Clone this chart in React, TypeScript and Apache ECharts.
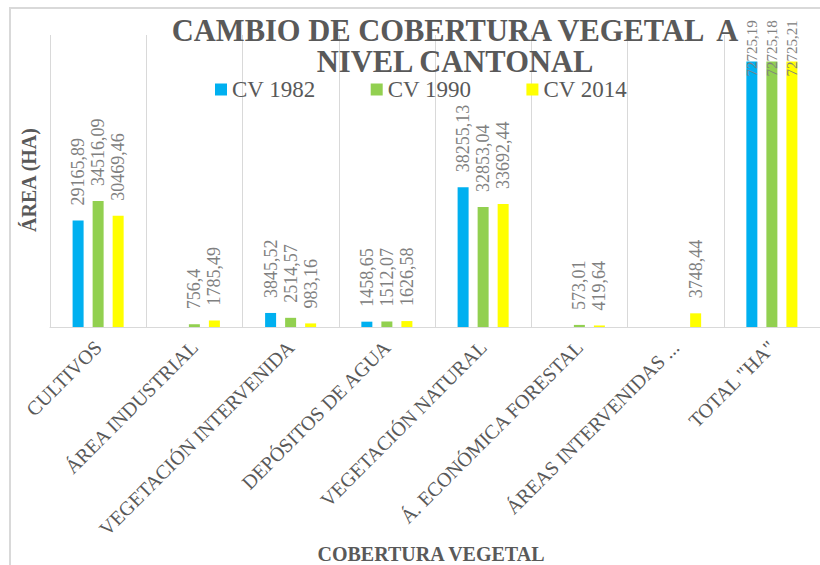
import React, { useEffect, useRef } from "react";
import * as echarts from "echarts";

const categories = [
  "CULTIVOS",
  "ÁREA INDUSTRIAL",
  "VEGETACIÓN INTERVENIDA",
  "DEPÓSITOS DE AGUA",
  "VEGETACIÓN NATURAL",
  "Á. ECONÓMICA FORESTAL",
  "ÁREAS INTERVENIDAS ...",
  "TOTAL \"HA\"",
];
const seriesNames = ["CV 1982", "CV 1990", "CV 2014"];
const cv1982 = [29165.89, null, 3845.52, 1458.65, 38255.13, null, null, 72725.19];
const cv1990 = [34516.09, 756.4, 2514.57, 1512.07, 32853.04, 573.01, null, 72725.18];
const cv2014 = [30469.46, 1785.49, 983.16, 1626.58, 33692.44, 419.64, 3748.44, 72725.21];
const colors = ["#00b0f0", "#92d050", "#ffff00"];
const titleText = "CAMBIO DE COBERTURA VEGETAL  A\nNIVEL CANTONAL";
const yTitle = "ÁREA (HA)";
const xTitle = "COBERTURA VEGETAL";

const SERIF = "Liberation Serif";

function fmt(v: number) {
  return String(v).replace(".", ",");
}

export default function App() {
  const ref = useRef<HTMLDivElement>(null);
  useEffect(() => {
    if (!ref.current) return;
    const chart = echarts.init(ref.current, undefined, { renderer: "svg" });
    const all = [cv1982, cv1990, cv2014];
    const lastIdx = categories.length - 1;
    const baseLabel = {
      show: true,
      rotate: 90,
      align: "left",
      verticalAlign: "middle",
      color: "#808080",
      fontFamily: SERIF,
      formatter: (p: any) => fmt(p.value),
    };
    const series = all.map((arr, si) => ({
      name: seriesNames[si],
      type: "bar",
      barWidth: 11,
      barGap: "82%",
      itemStyle: { color: colors[si] },
      label: { ...baseLabel, position: "top", distance: 15, fontSize: 18 },
      data: arr.map((v, i) =>
        i === lastIdx && v != null
          ? {
              value: v,
              label: { ...baseLabel, position: "insideTop", distance: 15, fontSize: 15 },
            }
          : v
      ),
    }));
    const axisTitleStyle = (text: string) => ({
      text,
      fontFamily: SERIF,
      fontWeight: "bold",
      fontSize: 20,
      fill: "#595959",
      textAlign: "center",
      textVerticalAlign: "middle",
    });
    chart.setOption({
      animation: false,
      backgroundColor: "#ffffff",
      title: {
        text: titleText,
        left: 450,
        top: 10,
        textAlign: "center",
        textStyle: {
          fontFamily: SERIF,
          fontWeight: "bold",
          fontSize: 30.5,
          lineHeight: 31,
          color: "#595959",
        },
      },
      grid: { left: 50, right: 0, top: 35, bottom: 238, containLabel: false },
      legend: {
        data: seriesNames,
        left: 210,
        top: 73,
        itemWidth: 12,
        itemHeight: 12,
        itemGap: 55,
        icon: "rect",
        textStyle: { fontFamily: SERIF, fontSize: 23, color: "#595959", lineHeight: 20 },
      },
      xAxis: {
        type: "category",
        data: categories,
        boundaryGap: true,
        axisLine: { show: true, lineStyle: { color: "#d9d9d9", width: 1 } },
        axisTick: { show: false },
        splitLine: { show: true, lineStyle: { color: "#d9d9d9", width: 1 } },
        axisLabel: {
          interval: 0,
          rotate: 45,
          margin: 17,
          fontFamily: SERIF,
          fontSize: 20,
          color: "#595959",
        },
      },
      yAxis: {
        type: "value",
        min: 0,
        max: 80000,
        show: false,
        splitLine: { show: false },
      },
      graphic: [
        {
          type: "rect",
          z: -10,
          shape: { x: 10, y: 8, width: 840, height: 600 },
          style: { fill: "none", stroke: "#d9d9d9", lineWidth: 2 },
        },
        {
          type: "text",
          x: 29,
          y: 180,
          rotation: Math.PI / 2,
          style: axisTitleStyle(yTitle),
        },
        { type: "text", x: 431, y: 554, style: axisTitleStyle(xTitle) },
      ],
      series,
    });
    return () => chart.dispose();
  }, []);
  return (
    <div
      ref={ref}
      style={{ position: "fixed", left: 0, top: 0, width: 820, height: 565 }}
    />
  );
}
